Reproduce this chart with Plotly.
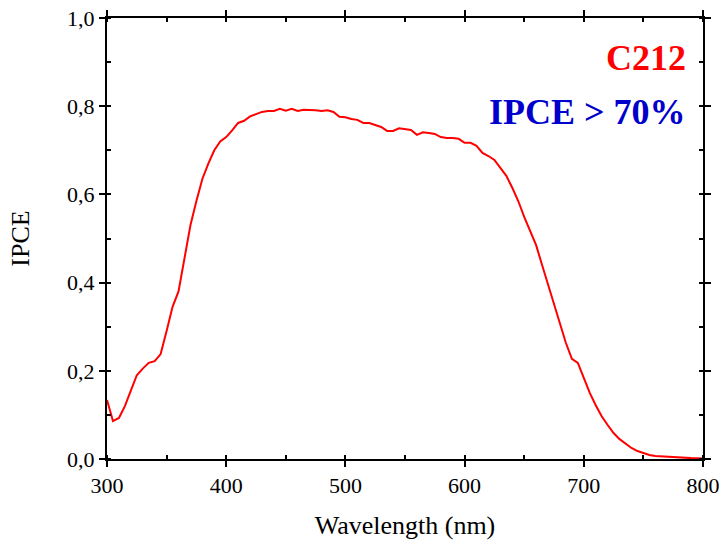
import plotly.graph_objects as go

wavelength = [300, 305, 310, 315, 320, 325, 330, 335, 340, 345, 350, 355, 360, 365, 370, 375, 380, 385, 390, 395,
              400, 405, 410, 415, 420, 425, 430, 435, 440, 445, 450, 455, 460, 465, 470, 475, 480, 485, 490, 495,
              500, 505, 510, 515, 520, 525, 530, 535, 540, 545, 550, 555, 560, 565, 570, 575, 580, 585, 590, 595,
              600, 605, 610, 615, 620, 625, 630, 635, 640, 645, 650, 655, 660, 665, 670, 675, 680, 685, 690, 695,
              700, 705, 710, 715, 720, 725, 730, 735, 740, 745, 750, 755, 760, 770, 780, 790, 800]
ipce = [0.134, 0.086, 0.093, 0.12, 0.155, 0.19, 0.205, 0.218, 0.222, 0.238, 0.29, 0.345, 0.38, 0.455, 0.53, 0.585,
        0.635, 0.67, 0.70, 0.72, 0.73, 0.745, 0.762, 0.767, 0.777, 0.782, 0.787, 0.789, 0.789, 0.794, 0.790, 0.794,
        0.789, 0.792, 0.792, 0.791, 0.789, 0.791, 0.787, 0.776, 0.775, 0.771, 0.769, 0.762, 0.762, 0.757, 0.753,
        0.744, 0.744, 0.75, 0.748, 0.746, 0.735, 0.741, 0.739, 0.737, 0.73, 0.728, 0.728, 0.726, 0.717, 0.717,
        0.71, 0.694, 0.687, 0.678, 0.66, 0.642, 0.615, 0.585, 0.549, 0.519, 0.485, 0.44, 0.395, 0.35, 0.304,
        0.263, 0.227, 0.218, 0.184, 0.15, 0.122, 0.097, 0.077, 0.059, 0.045, 0.034, 0.025, 0.018, 0.013, 0.009,
        0.007, 0.005, 0.003, 0.002, 0.001]

font_family = "Liberation Serif"

fig = go.Figure()
fig.add_trace(go.Scatter(x=wavelength, y=ipce, mode="lines",
                         line=dict(color="#ff0000", width=2), showlegend=False))

axis_common = dict(
    showline=True, linecolor="black", linewidth=2, mirror="allticks",
    ticks="outside", ticklen=6, tickwidth=2, tickcolor="black",
    showgrid=False, zeroline=False, automargin=False, ticklabeloverflow="allow",
    tickfont=dict(family=font_family, size=22, color="black"),
)

fig.update_xaxes(range=[300, 800], dtick=100, tick0=300,
                 title=dict(text="Wavelength (nm)", font=dict(family=font_family, size=26, color="black"), standoff=18),
                 minor=dict(dtick=50, ticks="inside", ticklen=4, tickwidth=1.5, tickcolor="black"),
                 **axis_common)
fig.update_yaxes(range=[0, 1.0], dtick=0.2, tick0=0, tickformat=".1f",
                 title=dict(text="IPCE", font=dict(family=font_family, size=26, color="black"), standoff=30),
                 minor=dict(dtick=0.1, ticks="inside", ticklen=4, tickwidth=1.5, tickcolor="black"),
                 **axis_common)

fig.add_annotation(x=0.975, y=0.909, xref="paper", yref="paper", xanchor="right", yanchor="middle",
                   text="<b>C212</b>", showarrow=False,
                   font=dict(family=font_family, size=36, color="#ff0000"))
fig.add_annotation(x=0.975, y=0.787, xref="paper", yref="paper", xanchor="right", yanchor="middle",
                   text="<b>IPCE &gt; 70%</b>", showarrow=False,
                   font=dict(family=font_family, size=36, color="#0000cc"))

fig.update_layout(
    width=719, height=542,
    margin=dict(l=107, r=16, t=18, b=83),
    plot_bgcolor="white", paper_bgcolor="white",
    separators=",.",
)

fig.write_html("out.html")
